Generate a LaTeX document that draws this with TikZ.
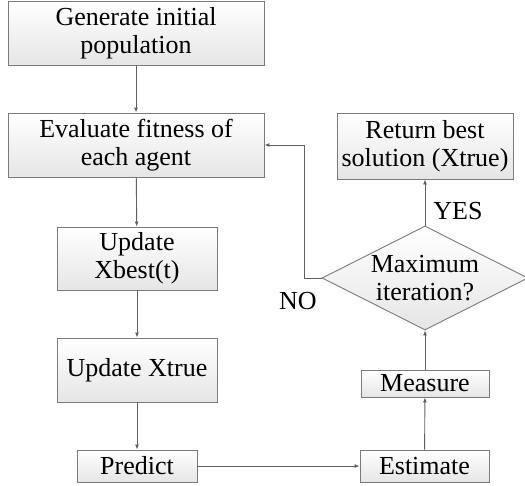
\documentclass[tikz,border=0pt]{standalone}
\usepackage{fontspec}
\setmainfont{Liberation Serif}
\usetikzlibrary{shapes.geometric,arrows.meta}
\definecolor{edgegray}{HTML}{606060}
\definecolor{boxgray}{HTML}{7A7A7A}
\tikzset{
  box/.style={draw=boxgray, line width=0.9pt, top color=white, bottom color=black!10,
    inner sep=0pt, align=center, font=\fontsize{26}{28}\selectfont},
  conn/.style={draw=edgegray, line width=0.9pt, -{Latex[length=5pt,width=4pt]}},
  lbl/.style={font=\fontsize{26}{28}\selectfont, inner sep=0pt}
}
\begin{document}
\begin{tikzpicture}[x=1pt,y=-1pt]
\useasboundingbox (0,0) rectangle (525,485);
\node[box, minimum width=256pt, minimum height=64pt] (gen) at (136,33) {Generate initial\\population};
\node[box, minimum width=256pt, minimum height=64pt] (eval) at (136,145) {Evaluate fitness of\\each agent};
\node[box, minimum width=160pt, minimum height=63pt] (xbest) at (137,258.5) {Update\\Xbest(t)};
\node[box, minimum width=160pt, minimum height=64pt] (xtrue) at (137,370) {Update Xtrue};
\node[box, minimum width=120pt, minimum height=32pt] (pred) at (137,466) {Predict};
\node[box, minimum width=129pt, minimum height=32pt] (est) at (424.5,466) {Estimate};
\node[box, minimum width=128pt, minimum height=27pt] (meas) at (425,383.5) {Measure};
\node[box, diamond, minimum width=206pt, minimum height=104pt] (dia) at (425,278) {};
\node[lbl, align=center] (diatext) at (425,278) {Maximum\\iteration?};
\node[box, minimum width=176pt, minimum height=66pt] (ret) at (425,146) {Return best\\solution (Xtrue)};
\coordinate (nb) at (304,278);
\draw[conn] (gen) -- (eval);
\draw[conn] (eval) -- (xbest);
\draw[conn] (xbest) -- (xtrue);
\draw[conn] (xtrue) -- (pred);
\draw[conn] (pred) -- (est);
\draw[conn] (est) -- (meas);
\draw[conn] (meas) -- (dia);
\draw[conn] (dia) -- (ret);
\draw[conn] (dia.west) -- (nb) |- (eval.east);
\node[lbl] (yes) at (458,211) {YES};
\node[lbl] (no) at (298,301) {NO};
\end{tikzpicture}
\end{document}
